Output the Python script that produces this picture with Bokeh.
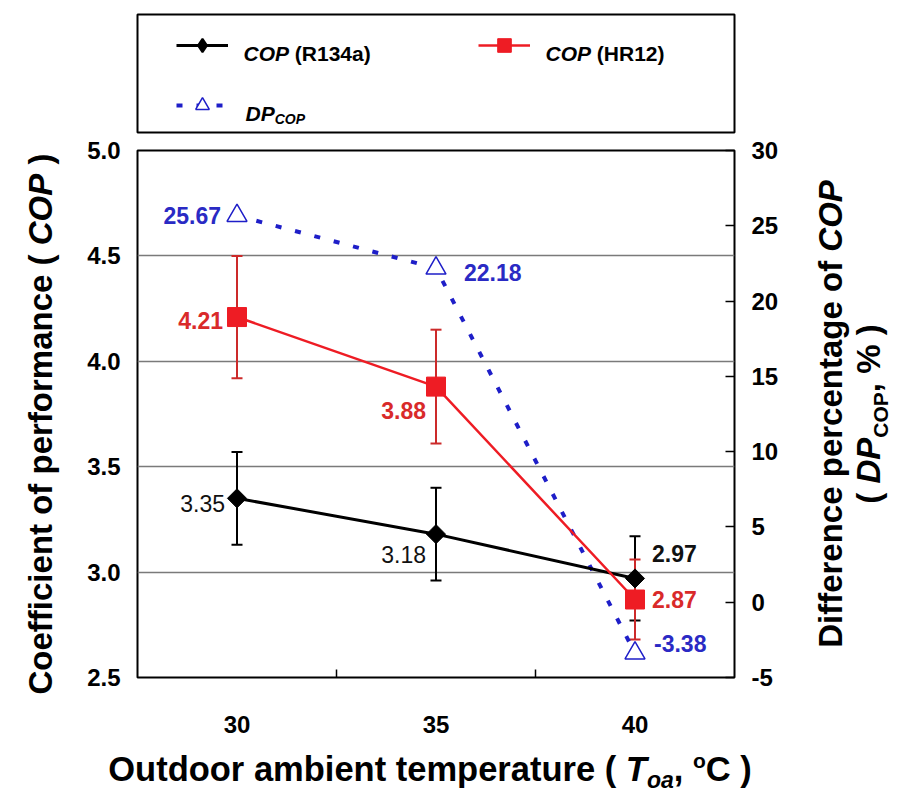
import math
from bokeh.plotting import figure
from bokeh.models import (ColumnDataSource, Range1d, LinearAxis, FixedTicker, Div,
                          NumeralTickFormatter, Whisker, TeeHead, Label, Legend, LegendItem)
from bokeh.layouts import column, row
from bokeh.embed import file_html
from bokeh.resources import INLINE
from bokeh.core.properties import value

# ---------------- data ----------------
temps = [30, 35, 40]
cop_r134a = [3.35, 3.18, 2.97]
cop_r134a_err = [0.22, 0.22, 0.20]
cop_hr12 = [4.21, 3.88, 2.87]
cop_hr12_err = [0.29, 0.27, 0.19]
dp_cop = [25.67, 22.18, -3.38]
cop_ticks = [2.5, 3.0, 3.5, 4.0, 4.5, 5.0]
dp_ticks = [-5, 0, 5, 10, 15, 20, 25, 30]
x_bounds = [32.5, 37.5]

# ---------------- styles ----------------
FONT = "Liberation Sans"
BLACK = "#000000"
RED = "#ee1c24"
RED_TXT = "#d92a2a"
RED_ERR = "#cc2a2a"
BLUE = "#1e1ec8"
BLUE_TXT = "#2a2ac4"

W = {' ': 278, '(': 333, ')': 333, ',': 278, '.': 278, '%': 889, '-': 333}
for d in "0123456789":
    W[d] = 556
W.update(dict(A=722, B=722, C=722, D=722, E=667, F=611, G=778, H=722, I=278, J=556, K=722,
              L=611, M=833, N=722, O=778, P=667, Q=778, R=722, S=667, T=611, U=722, V=667,
              W=944, X=667, Y=667, Z=611))
W.update(dict(a=556, b=611, c=556, d=611, e=556, f=333, g=611, h=611, i=278, j=278, k=556,
              l=278, m=889, n=611, o=611, p=611, q=611, r=389, s=556, t=333, u=611, v=556,
              w=778, x=556, y=556, z=500))


def tw(s, size):
    return sum(W.get(c, 556) for c in s) * size / 1000.0


def rich(plot, pieces, x, y, color=BLACK):
    pos = 0.0
    for t, s, st, sh in pieces:
        plot.add_layout(Label(x=x + pos, y=y + sh, x_units="screen", y_units="screen", text=t,
                              text_font=FONT, text_font_size=f"{s}px",
                              text_font_style=st, text_color=color, text_align="left",
                              text_baseline="alphabetic"))
        pos += tw(t, s)


# ---------------- sources ----------------
src_k = ColumnDataSource(dict(x=temps, y=cop_r134a,
                              upper=[v + e for v, e in zip(cop_r134a, cop_r134a_err)],
                              lower=[v - e for v, e in zip(cop_r134a, cop_r134a_err)]))
src_r = ColumnDataSource(dict(x=temps, y=cop_hr12,
                              upper=[v + e for v, e in zip(cop_hr12, cop_hr12_err)],
                              lower=[v - e for v, e in zip(cop_hr12, cop_hr12_err)]))
src_b = ColumnDataSource(dict(x=temps, y=dp_cop))

# ---------------- main figure ----------------
p = figure(width=740, height=604, x_range=Range1d(27.5, 42.5), y_range=Range1d(2.5, 5.0),
           output_backend="svg", toolbar_location=None,
           min_border_left=67, min_border_right=76, min_border_top=14, min_border_bottom=63,
           outline_line_color="black", outline_line_width=2,
           background_fill_color="white", border_fill_color="white")
p.extra_y_ranges = {"dp": Range1d(-5, 30)}

# left axis
ya = p.yaxis[0]
ya.ticker = FixedTicker(ticks=cop_ticks)
ya.formatter = NumeralTickFormatter(format="0.0")
ya.major_tick_line_color = None
ya.minor_tick_line_color = None
ya.axis_line_color = None
ya.major_label_standoff = 11
ya.major_label_text_font = FONT
ya.major_label_text_font_size = "24px"
ya.major_label_text_font_style = "bold"
ya.major_label_text_color = BLACK

# bottom axis
xa = p.xaxis[0]
xa.ticker = FixedTicker(ticks=temps, minor_ticks=x_bounds)
xa.major_tick_line_color = None
xa.minor_tick_in = 8
xa.minor_tick_out = 0
xa.minor_tick_line_color = BLACK
xa.minor_tick_line_width = 1.5
xa.axis_line_color = None
xa.major_label_standoff = 32
xa.major_label_text_font = FONT
xa.major_label_text_font_size = "24px"
xa.major_label_text_font_style = "bold"
xa.major_label_text_color = BLACK

# right axis
ra = LinearAxis(y_range_name="dp", ticker=FixedTicker(ticks=dp_ticks))
ra.major_label_overrides = {t: str(t) for t in dp_ticks}
ra.major_tick_in = 9
ra.major_tick_out = 0
ra.major_tick_line_color = BLACK
ra.major_tick_line_width = 1.5
ra.minor_tick_line_color = None
ra.axis_line_color = None
ra.major_label_standoff = 17
ra.major_label_text_font = FONT
ra.major_label_text_font_size = "24px"
ra.major_label_text_font_style = "bold"
ra.major_label_text_color = BLACK
p.add_layout(ra, "right")

# grid
p.xgrid.visible = False
p.ygrid.ticker = FixedTicker(ticks=cop_ticks)
p.ygrid.grid_line_color = "#7a7a7a"
p.ygrid.grid_line_width = 1.5

# series
p.line("x", "y", source=src_b, y_range_name="dp", line_color=BLUE, line_width=4,
       line_dash="6 14")
p.line("x", "y", source=src_k, line_color=BLACK, line_width=3)
p.line("x", "y", source=src_r, line_color=RED, line_width=2.5)

for src, col in ((src_k, BLACK), (src_r, RED_ERR)):
    wk = Whisker(source=src, base="x", upper="upper", lower="lower", level="underlay",
                 line_color=col, line_width=2,
                 upper_head=TeeHead(size=11, line_color=col, line_width=2),
                 lower_head=TeeHead(size=11, line_color=col, line_width=2))
    p.add_layout(wk)

p.scatter("x", "y", source=src_k, marker="square", angle=math.pi / 4, size=13.5,
          fill_color=BLACK, line_color=BLACK)
p.scatter("x", "y", source=src_r, marker="square", size=19, fill_color=RED, line_color=RED)
p.scatter("x", "y", source=src_b, y_range_name="dp", marker="triangle", size=20,
          fill_color="white", line_color=BLUE, line_width=1.5)

# value labels
k_pos = [("right", -12, 5, "normal"), ("right", -10, 20, "normal"), ("left", 17, -25, "bold")]
r_pos = [("right", -14, 3, "bold"), ("right", -10, 24, "bold"), ("left", 17, 0, "bold")]
b_pos = [("right", -16, 0, "bold"), ("left", 28, 4, "bold"), ("left", 19, -10, "bold")]

for xs, ys, poss, col, rng in ((temps, cop_r134a, k_pos, "#111111", "default"),
                               (temps, cop_hr12, r_pos, RED_TXT, "default"),
                               (temps, dp_cop, b_pos, BLUE_TXT, "dp")):
    for xv, yv, (al, dx, dy, st) in zip(xs, ys, poss):
        p.text(x=[xv], y=[yv], text=[f"{yv:.2f}"], x_offset=dx, y_offset=dy,
               y_range_name=rng, text_align=al, text_baseline="middle",
               text_font=value(FONT), text_font_size=value("23px"),
               text_font_style=st, text_color=col)

# ---------------- axis titles (HTML, rich text) ----------------
TSTYLE = ("font-family:'Liberation Sans',Arial,sans-serif;font-weight:bold;"
          "color:#000;white-space:nowrap;")

lt_html = (
    '<div style="position:relative;width:70px;height:604px;">'
    '<div style="position:absolute;left:23.5px;top:568px;width:560px;line-height:33px;'
    'font-size:33px;text-align:center;transform:rotate(-90deg);transform-origin:0 0;'
    + TSTYLE + '">'
    'Coefficient of performance ( <i>COP</i> )</div></div>')
lt = Div(text=lt_html, width=70, height=604, margin=0)

rt_html = (
    '<div style="position:relative;width:95px;height:604px;">'
    '<div style="position:absolute;left:1.5px;top:547.5px;width:540px;line-height:38px;'
    'font-size:33px;text-align:center;transform:rotate(-90deg);transform-origin:0 0;'
    + TSTYLE + '">'
    'Difference percentage of <i>COP</i><br>'
    '( <i>DP</i><span style="font-size:21px;line-height:1;position:relative;top:8px;">COP</span>, % )'
    '</div></div>')
rt = Div(text=rt_html, width=95, height=604, margin=0)

bt_html = (
    '<div style="position:relative;width:905px;height:61px;">'
    '<div style="position:absolute;left:0;top:10px;width:860px;line-height:38px;'
    'font-size:34.5px;text-align:center;' + TSTYLE + '">'
    'Outdoor ambient temperature ( <i>T</i>'
    '<span style="font-size:23px;line-height:1;position:relative;top:7px;"><i>oa</i></span>, '
    '<span style="font-size:21px;line-height:1;position:relative;top:-13px;">o</span>C )'
    '</div></div>')
bt = Div(text=bt_html, width=905, height=61, margin=0)

# ---------------- legend figure ----------------
leg = figure(width=905, height=136, x_range=Range1d(0, 1), y_range=Range1d(0, 1),
             output_backend="svg", toolbar_location=None,
             x_axis_location=None, y_axis_location=None,
             min_border_left=137, min_border_right=171, min_border_top=14, min_border_bottom=4,
             outline_line_color="black", outline_line_width=2,
             background_fill_color="white", border_fill_color="white")
leg.grid.visible = False

lk = leg.line("x", "y", source=src_k, line_color=BLACK, line_width=3, visible=False)
mk = leg.scatter("x", "y", source=src_k, marker="diamond", size=20,
                 fill_color=BLACK, line_color=BLACK, line_width=2, visible=False)
lr = leg.line("x", "y", source=src_r, line_color=RED, line_width=2.5, visible=False)
mr = leg.scatter("x", "y", source=src_r, marker="square", size=19, fill_color=RED,
                 line_color=RED, visible=False)
lb = leg.line("x", "y", source=src_b, line_color=BLUE, line_width=4, line_dash="6 14",
              visible=False)
mb = leg.scatter("x", "y", source=src_b, marker="triangle", size=20, fill_color="white",
                 line_color=BLUE, line_width=1.5, visible=False)

legend = Legend(items=[LegendItem(label=" ", renderers=[lk, mk]),
                       LegendItem(label=" ", renderers=[lr, mr]),
                       LegendItem(label=" ", renderers=[lb, mb])],
                location=(39, 10), orientation="horizontal", ncols=2,
                glyph_width=52, glyph_height=34, label_width=209, label_height=34,
                label_standoff=15, spacing=26, padding=0, margin=0,
                border_line_color=None, background_fill_alpha=0,
                label_text_font_size="21px", click_policy="none")
leg.add_layout(legend)

LS = 21
rich(leg, [("COP ", LS, "bold italic", 0), ("(R134a)", LS, "bold", 0)], x=106, y=79.5)
rich(leg, [("COP ", LS, "bold italic", 0), ("(HR12)", LS, "bold", 0)], x=408, y=79.5)
rich(leg, [("DP", LS, "bold italic", 0), ("COP", 14, "bold italic", -6)], x=108, y=19.5)

layout = column(leg, row(lt, p, rt, spacing=0), bt, spacing=0)
open("out.html", "w").write(file_html(layout, INLINE))
